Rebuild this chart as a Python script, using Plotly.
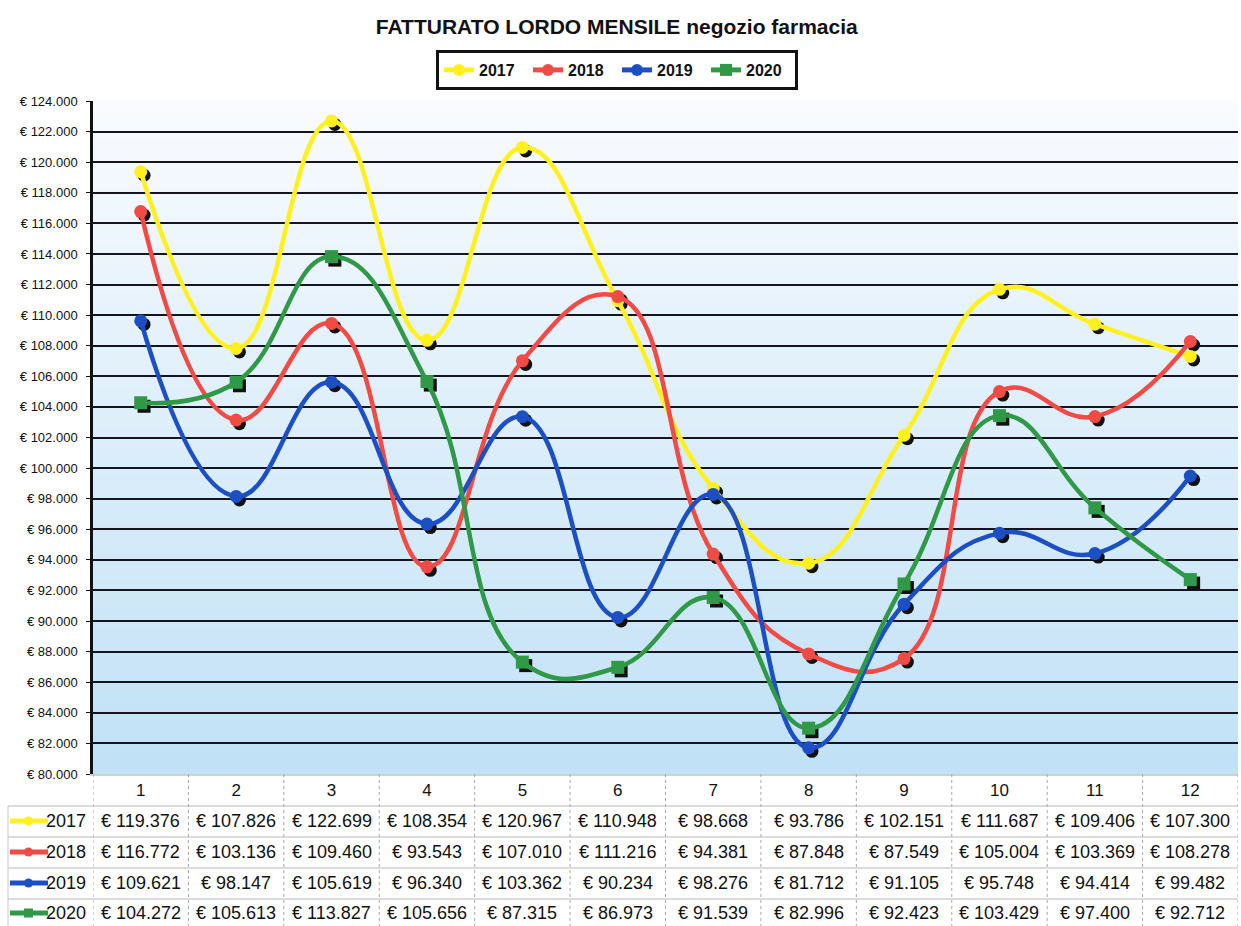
import plotly.graph_objects as go

# ---- data -----------------------------------------------------------------
months = [1, 2, 3, 4, 5, 6, 7, 8, 9, 10, 11, 12]
years = ["2017", "2018", "2019", "2020"]
sales_2017 = [119376, 107826, 122699, 108354, 120967, 110948, 98668, 93786, 102151, 111687, 109406, 107300]
sales_2018 = [116772, 103136, 109460, 93543, 107010, 111216, 94381, 87848, 87549, 105004, 103369, 108278]
sales_2019 = [109621, 98147, 105619, 96340, 103362, 90234, 98276, 81712, 91105, 95748, 94414, 99482]
sales_2020 = [104272, 105613, 113827, 105656, 87315, 86973, 91539, 82996, 92423, 103429, 97400, 92712]
y_ticks = [80000, 82000, 84000, 86000, 88000, 90000, 92000, 94000, 96000, 98000, 100000,
           102000, 104000, 106000, 108000, 110000, 112000, 114000, 116000, 118000, 120000,
           122000, 124000]

series = [sales_2017, sales_2018, sales_2019, sales_2020]
colors = ["#fff01e", "#f04b45", "#1c4fc4", "#2f9947"]
symbols = ["circle", "circle", "circle", "square"]


def euro(v):
    return "€ " + f"{v:,}".replace(",", ".")


# ---- page geometry --------------------------------------------------------
W, H = 1241, 926
M_L, M_R, M_T, M_B = 93, 3, 101, 152
PLOT_W = W - M_L - M_R
PLOT_H = H - M_T - M_B
SANS = "Liberation Sans, Arial, sans-serif"


def pxx(p):
    """page x pixel -> paper x"""
    return (p - M_L) / PLOT_W


def pyy(p):
    """page y pixel -> paper y"""
    return (H - M_B - p) / PLOT_H


fig = go.Figure()

# black drop shadows under the point markers
for vals, sym in zip(series, symbols):
    fig.add_trace(go.Scatter(
        x=[m + 0.035 for m in months], y=[v - 230 for v in vals],
        mode="markers", showlegend=False, hoverinfo="skip",
        marker=dict(color="#111111", size=13, symbol=sym),
    ))

for name, vals, col, sym in zip(years, series, colors, symbols):
    fig.add_trace(go.Scatter(
        x=months, y=vals, name=name, mode="lines+markers",
        line=dict(color=col, width=4.5, shape="spline", smoothing=1.3),
        marker=dict(color=col, size=13, symbol=sym),
    ))

shapes = []

# vertical gradient of the plotting area
N = 70
top = (249, 251, 254)
bot = (192, 225, 246)
for i in range(N):
    t = (i + 0.5) / N
    c = tuple(round(top[k] + (bot[k] - top[k]) * t) for k in range(3))
    shapes.append(dict(
        type="rect", xref="paper", yref="paper", layer="below",
        x0=0, x1=1, y0=1 - (i + 1) / N, y1=1 - i / N + 0.001,
        fillcolor="rgb(%d,%d,%d)" % c, line=dict(width=0),
    ))

# data table under the chart
row_lines = [806, 837, 868, 899]
for yl in row_lines:
    shapes.append(dict(type="line", xref="paper", yref="paper",
                       x0=pxx(8), x1=1, y0=pyy(yl), y1=pyy(yl),
                       line=dict(color="#b8b8b8", width=1)))
shapes.append(dict(type="line", xref="paper", yref="paper",
                   x0=pxx(8), x1=pxx(8), y0=pyy(806), y1=pyy(926),
                   line=dict(color="#c8c8c8", width=1)))
for k in range(13):
    shapes.append(dict(type="line", xref="x", yref="paper",
                       x0=0.5 + k, x1=0.5 + k, y0=0, y1=pyy(926),
                       line=dict(color="#a8a8a8", width=1, dash="dot")))

row_centres = [821, 852, 883, 913]
annotations = []
for name, vals, col, sym, yc in zip(years, series, colors, symbols, row_centres):
    # legend key in the first column
    shapes.append(dict(type="line", xref="paper", yref="paper",
                       x0=pxx(10), x1=pxx(48), y0=pyy(yc), y1=pyy(yc),
                       line=dict(color=col, width=5)))
    if sym == "square":
        shapes.append(dict(type="rect", xref="paper", yref="paper",
                           x0=pxx(24), x1=pxx(33), y0=pyy(yc + 4.5), y1=pyy(yc - 4.5),
                           fillcolor=col, line=dict(width=0)))
    else:
        shapes.append(dict(type="circle", xref="paper", yref="paper",
                           x0=pxx(24), x1=pxx(33), y0=pyy(yc + 4.5), y1=pyy(yc - 4.5),
                           fillcolor=col, line=dict(width=0)))
    annotations.append(dict(xref="paper", yref="paper", x=pxx(88), y=pyy(yc),
                            xanchor="right", yanchor="middle", showarrow=False,
                            text=name, font=dict(family=SANS, size=18, color="#111")))
    for m, v in zip(months, vals):
        annotations.append(dict(xref="x", yref="paper", x=m, y=pyy(yc),
                                xanchor="center", yanchor="middle", showarrow=False,
                                text=euro(v), font=dict(family=SANS, size=18, color="#111")))

fig.update_layout(
    width=W, height=H,
    margin=dict(l=M_L, r=M_R, t=M_T, b=M_B),
    paper_bgcolor="white",
    plot_bgcolor="rgba(0,0,0,0)",
    title=dict(text="FATTURATO LORDO MENSILE negozio farmacia",
               x=0.497, xref="container", xanchor="center",
               y=1 - 27 / H, yref="container", yanchor="middle",
               font=dict(family=SANS, size=21, color="#111", weight="bold")),
    legend=dict(orientation="h", x=pxx(617), xanchor="center",
                y=pyy(70), yanchor="middle",
                bordercolor="#111", borderwidth=3, bgcolor="white",
                font=dict(family=SANS, size=16, color="#111", weight="bold"),
                itemwidth=30, tracegroupgap=0, itemsizing="constant",
                entrywidth=44, entrywidthmode="pixels"),
    xaxis=dict(range=[0.5, 12.5], tickvals=months, ticktext=[str(m) for m in months],
               showgrid=False, zeroline=False, ticks="",
               showline=True, linecolor="#d0d0d0", linewidth=2,
               tickfont=dict(family=SANS, size=17, color="#111")),
    yaxis=dict(range=[80000, 124000], tickvals=y_ticks, ticktext=[euro(v) for v in y_ticks],
               showgrid=True, gridcolor="#15151f", gridwidth=1.8, zeroline=False,
               showline=True, linecolor="#111", linewidth=2.5,
               ticks="outside", ticklen=4, tickcolor="#111", ticklabelstandoff=6,
               tickfont=dict(family=SANS, size=13, color="#111")),
    shapes=shapes,
    annotations=annotations,
    showlegend=True,
)

fig.write_html("out.html")
